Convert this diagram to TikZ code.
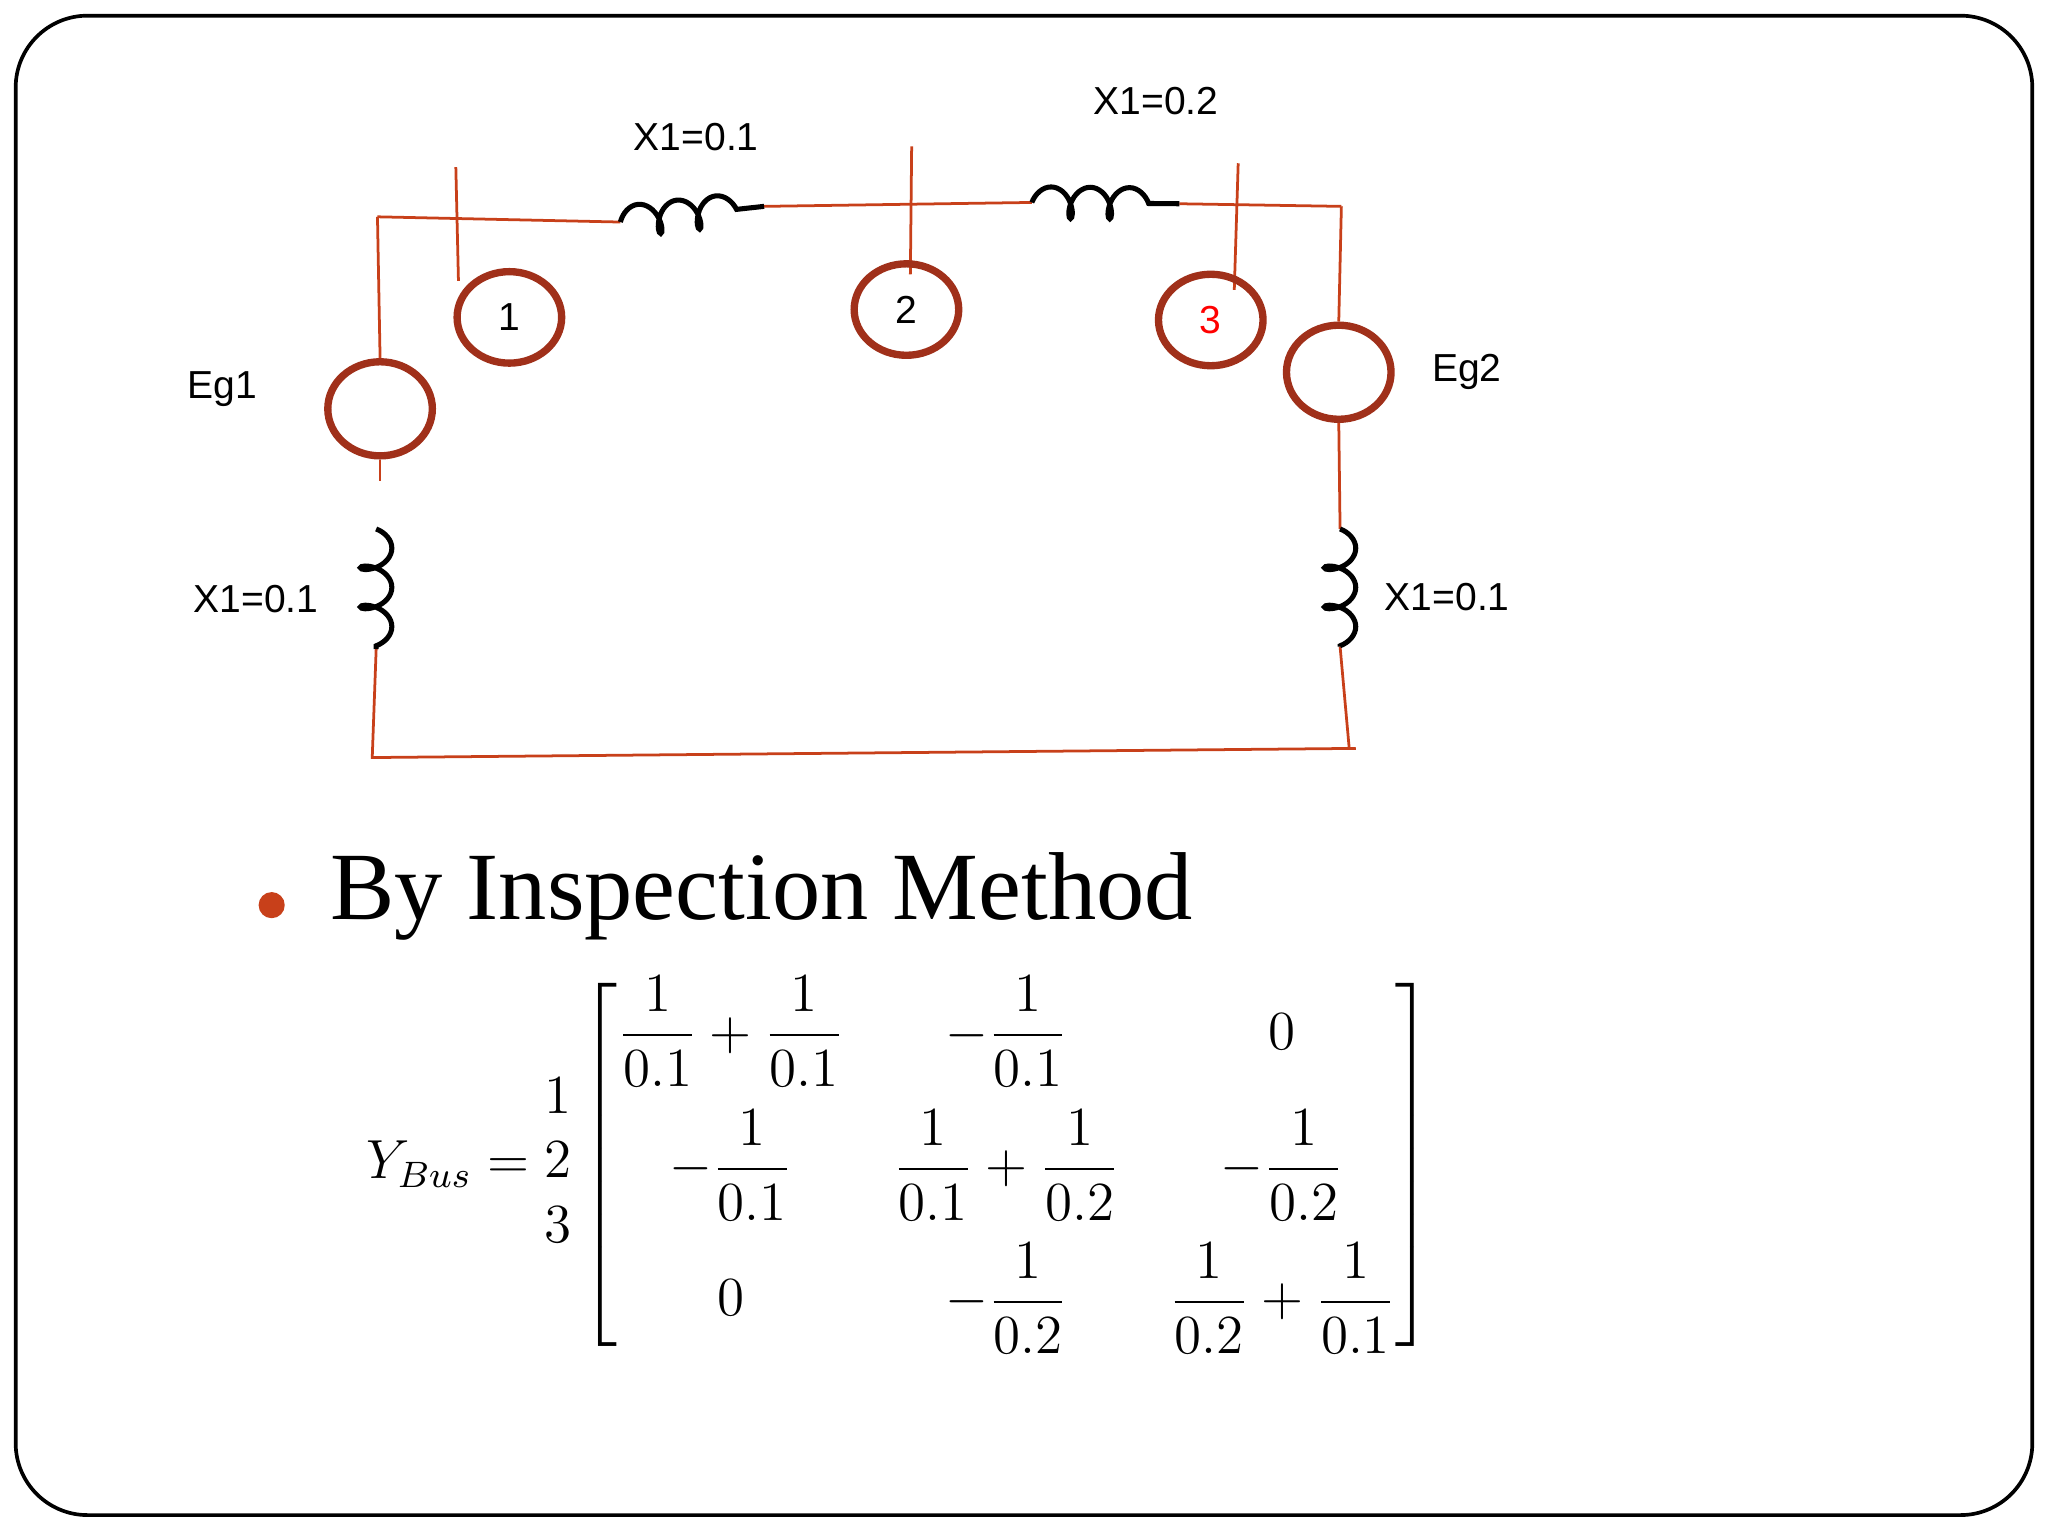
\documentclass[tikz,border=0pt]{standalone}
\usepackage{amsmath}
\usepackage{fontspec}
\newfontfamily\lab{Liberation Sans}
\newfontfamily\ttl{Liberation Serif}
\usetikzlibrary{decorations.pathmorphing,shapes.geometric}
\definecolor{wire}{HTML}{C8401A}
\definecolor{ring}{HTML}{A0301A}
\tikzset{
 wirel/.style={draw=wire,line width=0.6pt},
 busc/.style={draw=ring,line width=1.6pt,ellipse,minimum width=0.8cm,minimum height=0.7cm},
 gen/.style={draw=ring,line width=1.6pt,ellipse,minimum width=0.8cm,minimum height=0.72cm},
 coilst/.style={draw=black,line width=1.1pt,decorate,decoration={coil,aspect=0.6,segment length=0.3cm,amplitude=0.12cm}},
 lbl/.style={font=\lab\fontsize{8.5}{10}\selectfont}
}
\begin{document}
\begin{tikzpicture}[x=0.01cm,y=-0.01cm]
\useasboundingbox (0,0) rectangle (1568,1176);
\draw[line width=0.8pt,rounded corners=0.55cm] (12,12) rectangle (1556,1160);
\coordinate (tl) at (289,166);
\coordinate (l1a) at (475,170); \coordinate (l1b) at (585,158);
\coordinate (l2a) at (790,155); \coordinate (l2b) at (903,156);
\coordinate (tr) at (1027,158);
\coordinate (bl) at (285,580); \coordinate (br) at (1038,573);
\node[gen] (g1) at (291,313) {};
\node[gen] (g2) at (1025,285) {};
\coordinate (li1a) at (288,405); \coordinate (li1b) at (288,497);
\coordinate (ri1a) at (1026,405); \coordinate (ri1b) at (1026,495);
\draw[wirel] (tl) -- (l1a);
\draw[wirel] (l1b) -- (l2a);
\draw[wirel] (l2b) -- (tr);
\draw[wirel] (tl) -- (g1.north);
\draw[wirel] (g1.south) -- (291,368);
\draw[wirel] (li1b) -- (bl) -- (br);
\draw[wirel] (1033,573) -- (ri1b);
\draw[wirel] (ri1a) -- (g2.south);
\draw[wirel] (g2.north) -- (tr);
\draw[coilst] (l1a) -- (l1b);
\draw[coilst] (l2a) -- (l2b);
\draw[coilst] (li1a) -- (li1b);
\draw[coilst] (ri1a) -- (ri1b);
\draw[wirel] (349,128) -- (351,215);
\draw[wirel] (698,112) -- (697,210);
\draw[wirel] (948,125) -- (945,222);
\node[busc,lbl] (b1) at (390,243) {1};
\node[busc,lbl] (b2) at (694,237) {2};
\node[busc,lbl,text=red] (b3) at (927,245) {3};
\node[lbl] (x12) at (533,105) {X1=0.1};
\node[lbl] (x23) at (885,77) {X1=0.2};
\node[lbl] (e1) at (170,298) {Eg1};
\node[lbl] (e2) at (1123,285) {Eg2};
\node[lbl] (xl) at (196,459) {X1=0.1};
\node[lbl] (xr) at (1108,457) {X1=0.1};
\fill[wire] (208,693) circle (0.1cm);
\node[anchor=west,inner sep=0pt,font=\ttl\fontsize{21}{24}\selectfont] (title) at (252,686) {By Inspection Method};
\node[anchor=west,inner sep=0pt,font=\fontsize{12}{14}\selectfont] (mat) at (280,892) {$Y_{Bus}=\begin{matrix}1\\2\\3\end{matrix}\left[\begin{matrix}\dfrac{1}{0.1}+\dfrac{1}{0.1} & \quad-\dfrac{1}{0.1}\quad & 0\\[9pt]
-\dfrac{1}{0.1} & \dfrac{1}{0.1}+\dfrac{1}{0.2} & -\dfrac{1}{0.2}\\[9pt]
0 & -\dfrac{1}{0.2} & \dfrac{1}{0.2}+\dfrac{1}{0.1}\end{matrix}\right]$};
\end{tikzpicture}
\end{document}
